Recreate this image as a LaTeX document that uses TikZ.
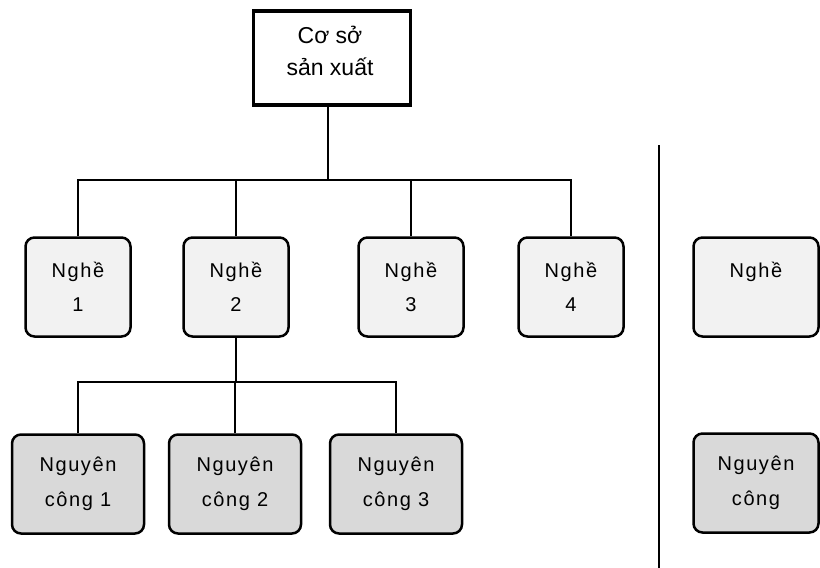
\documentclass[tikz,border=0pt]{standalone}
\usepackage{fontspec}
\setmainfont{Liberation Sans}
\newfontfamily\spacedfont[LetterSpace=8]{Liberation Sans}
\definecolor{tradefill}{HTML}{F2F2F2}
\definecolor{opfill}{HTML}{D9D9D9}
\tikzset{
  topbox/.style={draw, line width=3.5pt, fill=white, minimum width=157pt, minimum height=94pt, inner sep=0pt},
  toptext/.style={align=center, inner sep=0pt, font=\fontsize{23}{32}\selectfont},
  tradebox/.style={draw, line width=2.5pt, rounded corners=9pt, fill=tradefill, minimum width=105pt, minimum height=99pt, align=center, inner sep=0pt, font=\spacedfont\fontsize{20}{34}\selectfont},
  opbox/.style={draw, line width=2.5pt, rounded corners=9pt, fill=opfill, minimum width=132pt, minimum height=99pt, align=center, inner sep=0pt, font=\spacedfont\fontsize{20}{35}\selectfont},
  conn/.style={line width=1.2pt},
  sepline/.style={line width=1.5pt}
}
\begin{document}
\begin{tikzpicture}[x=1pt,y=-1pt]
\useasboundingbox (0,0) rectangle (820,568);
\node[topbox] (top) at (332,58) {};
\node[toptext] (toplabel) at (330,51) {Cơ sở\\sản xuất};
\node[tradebox] (n1) at (78,287) {Nghề\\1};
\node[tradebox] (n2) at (236,287) {Nghề\\2};
\node[tradebox] (n3) at (411,287) {Nghề\\3};
\node[tradebox] (n4) at (571,287) {Nghề\\4};
\node[tradebox, minimum width=125pt] (nr) at (756,287) {Nghề\\\phantom{1}};
\node[opbox] (o1) at (78,484) {Nguyên\\công 1};
\node[opbox] (o2) at (235,484) {Nguyên\\công 2};
\node[opbox] (o3) at (396,484) {Nguyên\\công 3};
\node[opbox, minimum width=125pt] (or) at (756,483) {Nguyên\\công};
\coordinate (bus) at (328,180);
\coordinate (bus2) at (236,382);
\draw[conn] (top.south -| bus) -- (bus);
\foreach \n in {n1,n2,n3,n4} \draw[conn] (\n.north) |- (bus);
\draw[conn] (n2.south) -- (bus2);
\foreach \n in {o1,o2,o3} \draw[conn] (\n.north) |- (bus2);
\coordinate (sepa) at (659,145);
\coordinate (sepb) at (659,568);
\draw[sepline] (sepa) -- (sepb);
\end{tikzpicture}
\end{document}
